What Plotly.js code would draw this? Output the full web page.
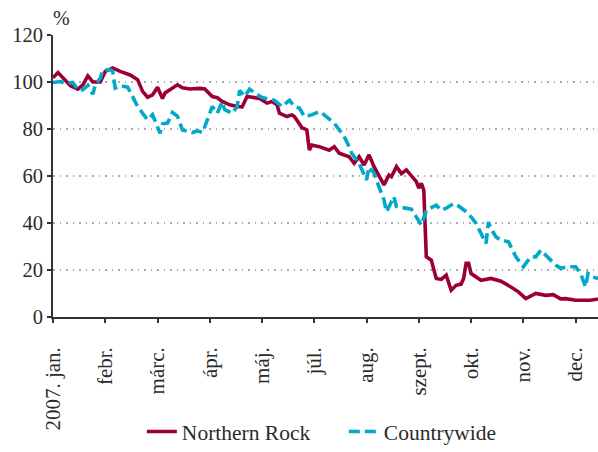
<!DOCTYPE html>
<html>
<head>
<meta charset="utf-8">
<script src="https://cdn.plot.ly/plotly-3.0.1.min.js"></script>
<style>html,body{margin:0;padding:0;background:#fff;}#chart{width:598px;height:452px;}</style>
</head>
<body>
<div id="chart"></div>
<script>
// Trading-day index (about 21 per month) and index values (2007. jan. = 100)
const nrDay = [0,2,7,10,12,14,16,19,21,24,27,31,34,36,38,40,42,44,45,48,50,52,55,59,61,64,66,68,71,74,76,78,80,83,86,88,90,91,94,96,97,99,100,102,103,104,107,111,113,115,119,121,123,125,127,129,133,135,136,138,140,142,146,147,148,149,150,152,154,156,158,160,162,164,165,166,167,168,170,172,176,180,184,187,190,194,198,201,204,206,210,216,219];
const nrVal = [101.8,104,98.4,97,98.8,102.6,100,100,104.5,106,104.5,103,101,96,93.5,94.5,97.8,93,95.3,97.4,98.8,97.5,97,97.3,97,93.8,93.3,91.7,90.3,89.6,89.4,93.8,93.4,93,91,91.7,90.3,86.7,85.3,86,85.3,82.5,80.6,79.6,71,73.2,72.5,71,72.5,69.7,68.2,65.4,68.2,64.7,69,64,56.2,60.4,59.7,64,61,62.6,57.6,54.8,56.9,54,25.6,24.2,16.4,16,17.8,11.4,13.5,14,16.4,22.8,22.8,18.5,17,15.6,16.4,15.2,12.8,10.7,7.8,10,9.2,9.5,7.7,7.8,7.1,7.1,7.7];
const cwDay = [0,3,5,8,10,12,14,16,17,19,20,23,24,25,27,30,32,34,36,38,40,42,43,44,46,48,50,52,54,56,58,60,61,63,64,66,68,69,72,74,75,77,79,81,84,87,89,92,95,97,99,101,104,107,109,113,115,117,119,120,123,125,126,127,129,131,133,134,136,137,138,142,144,146,148,150,152,154,156,158,161,163,166,168,170,172,174,175,176,178,180,183,184,186,188,189,191,192,194,196,198,200,202,204,207,210,212,214,215,217,219];
const cwVal = [99.8,100.2,99.4,99.8,96.7,96.7,98.6,94.8,98.8,101.6,104.9,105.3,104.5,97.4,98.4,97.8,93.8,89.6,86.7,83.9,86.1,81,78.2,82.2,82.5,87,85.5,79.6,78.9,78.5,79.2,78.5,81,86.7,89.6,86.7,91.6,88.2,86.7,89.6,96.4,93.8,97,95.3,93.4,92.6,92.2,89.6,92.2,89.6,88.9,85.3,86,87.4,86,82.5,79.6,76.8,72.5,69.7,65.4,61.2,58.3,63.8,61.2,55.4,49.8,44.8,49.1,51.2,47,46.3,45.9,42.6,39.1,45.4,46.6,47.6,45.4,46.3,48.3,47.2,44.8,42.6,39.8,35.5,31.3,40.4,37.6,34.1,32.7,32,29.9,25.6,22.8,21.4,24.2,25.6,25.6,28.4,26.3,24.2,22.1,20.7,21.4,21.4,18.5,12.8,18.5,17,16.4];
const tickDays = [0,21,42,63,84,105,126,147,168,189,210];
const tickLabels = ['2007. jan.','febr.','márc.','ápr.','máj.','júl.','aug.','szept.','okt.','nov.','dec.'];
const seriesNames = ['Northern Rock','Countrywide'];

const FONT = 'Liberation Serif';
const TXT = '#2b2b2b';
const PAD = '\u00a0\u00a0\u00a0';
const traces = [
  {x: nrDay, y: nrVal, name: seriesNames[0], type: 'scatter', mode: 'lines',
   line: {color: '#9A0036', width: 3.6}},
  {x: cwDay, y: cwVal, name: seriesNames[1], type: 'scatter', mode: 'lines',
   line: {color: '#00A8CA', width: 3.6, dash: '11px,5px'}}
];
const layout = {
  width: 598, height: 452,
  margin: {l: 53, r: 0, t: 35, b: 135},
  paper_bgcolor: '#fff', plot_bgcolor: '#fff',
  font: {family: FONT, size: 21, color: TXT},
  showlegend: true,
  legend: {orientation: 'h', xref: 'container', x: 0.575, xanchor: 'center',
           yref: 'container', y: -0.05, yanchor: 'bottom',
           font: {family: FONT, size: 21.5, color: TXT}, itemwidth: 30,
           entrywidth: 157, tracegroupgap: 0},
  xaxis: {range: [0, 219], tickmode: 'array', tickvals: tickDays,
          ticktext: tickLabels.map(t => t + PAD), tickangle: -90,
          showgrid: false, zeroline: false,
          showline: true, linecolor: '#333', linewidth: 2,
          ticks: 'outside', ticklen: 4, tickwidth: 2, tickcolor: '#333',
          tickfont: {family: FONT, size: 21, color: TXT}, fixedrange: true},
  yaxis: {range: [0, 120], dtick: 20, showgrid: true, gridcolor: '#aaa',
          griddash: '1.5px,5px', gridwidth: 1.5, zeroline: false,
          showline: true, linecolor: '#333', linewidth: 2,
          ticks: 'outside', ticklen: 4, tickwidth: 2, tickcolor: '#333',
          tickfont: {family: FONT, size: 20.5, color: TXT}, fixedrange: true},
  annotations: [{text: '%', xref: 'paper', yref: 'paper', x: 0, y: 1, xanchor: 'left',
                 yanchor: 'bottom', xshift: -2, yshift: 4, showarrow: false,
                 font: {family: FONT, size: 20, color: TXT}}]
};
Plotly.newPlot('chart', traces, layout, {displayModeBar: false, staticPlot: true});
</script>
</body>
</html>
